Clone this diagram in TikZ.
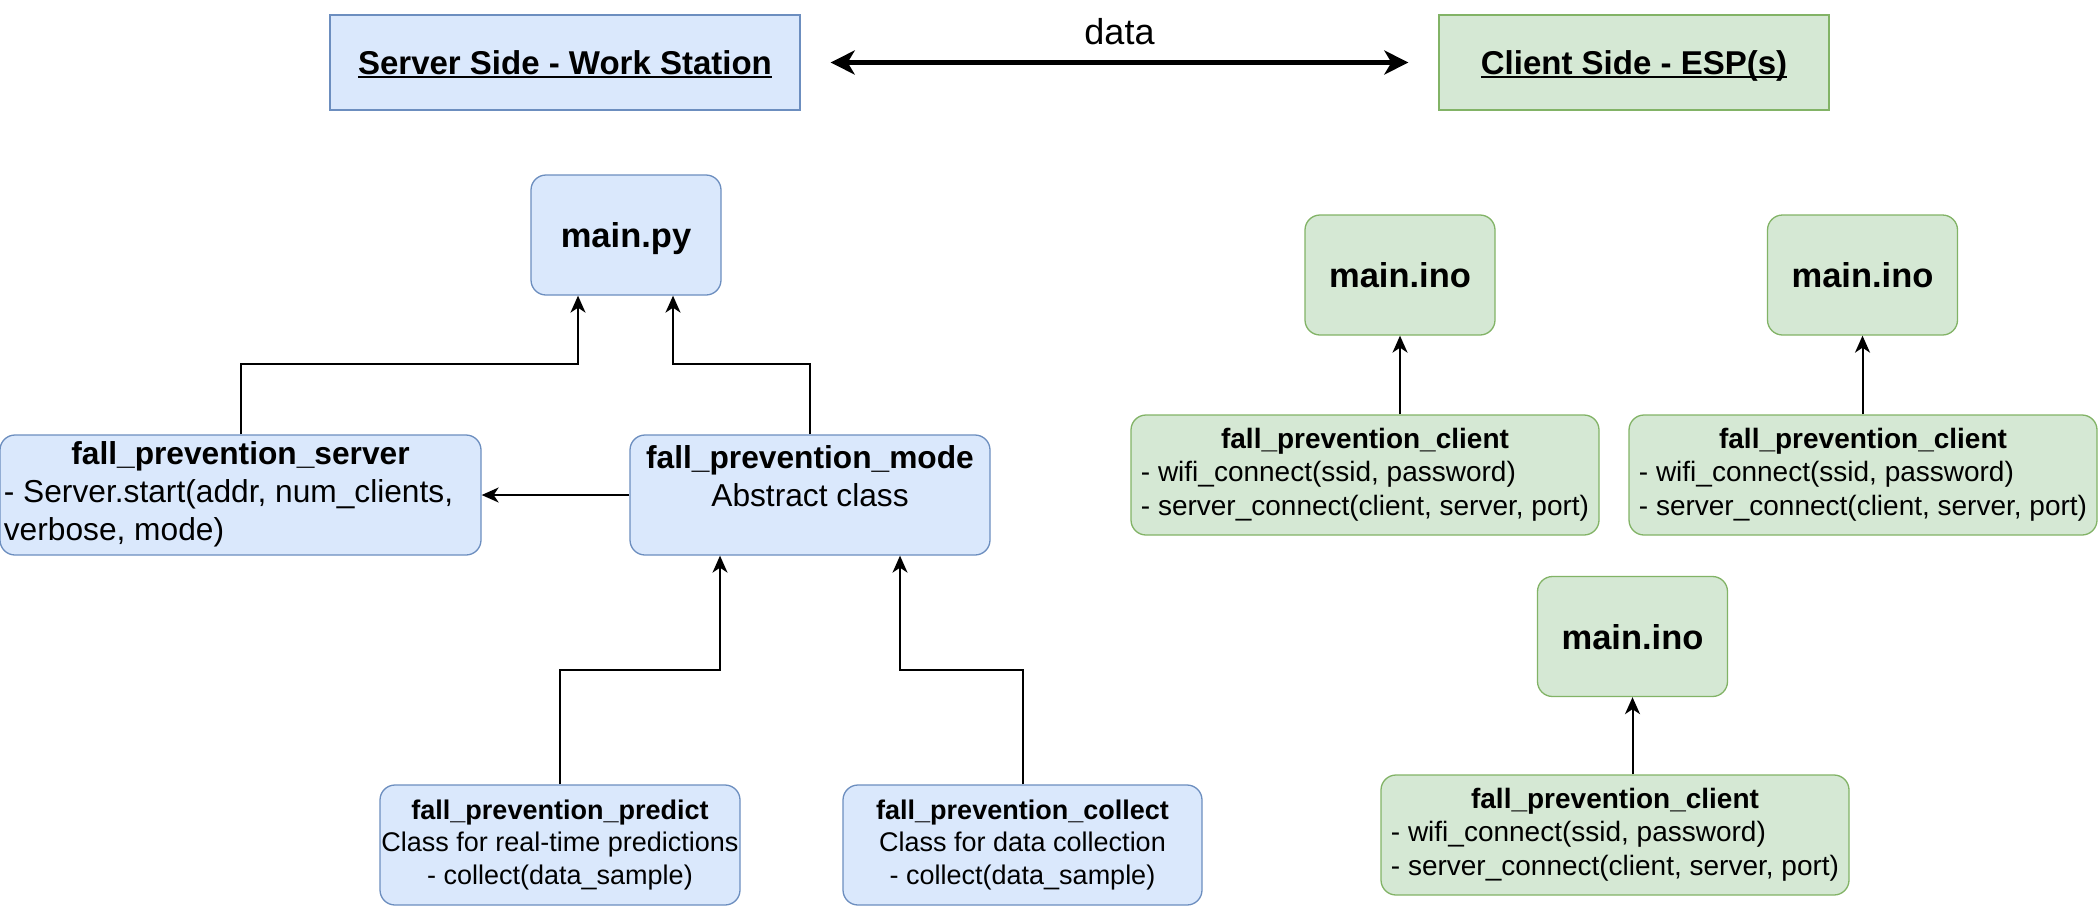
\documentclass[tikz,border=0pt]{standalone}
\usepackage{fontspec}
\setmainfont{Liberation Sans}
\usetikzlibrary{arrows.meta}
\definecolor{bluefill}{HTML}{DAE8FC}
\definecolor{blueline}{HTML}{6C8EBF}
\definecolor{greenfill}{HTML}{D5E8D4}
\definecolor{greenline}{HTML}{82B366}
\newcommand{\hdul}[1]{\setbox0=\hbox{#1}\rlap{\rule[-4pt]{\wd0}{2.5pt}}\box0}

\begin{document}
\begin{tikzpicture}[
	x=1pt, y=-1pt,
	font=\fontsize{28}{33.6}\selectfont,
	hd/.style={draw, line width=1.3pt, minimum height=95pt, inner sep=0pt, text depth=0pt, font=\fontsize{33}{40}\selectfont\bfseries},
	sh/.style={hd, fill=bluefill, draw=blueline},
	ch/.style={hd, fill=greenfill, draw=greenline},
	bx/.style={draw, rounded corners=15pt, line width=1.3pt, minimum height=120pt, inner sep=0pt, align=center},
	bs/.style={bx, fill=bluefill, draw=blueline},
	bc/.style={bx, fill=greenfill, draw=greenline},
	ftbig/.style={text depth=0pt, font=\fontsize{34.5}{41}\selectfont\bfseries},
	ftmid/.style={font=\fontsize{31.7}{38}\selectfont},
	ftsml/.style={font=\fontsize{27}{32.4}\selectfont},
	conn/.style={line width=2pt, -{Stealth[length=17pt, width=15pt, inset=5pt]}},
	dtip/.style={line width=4.5pt, {Stealth[length=24pt, width=24pt, inset=7pt]}-{Stealth[length=24pt, width=24pt, inset=7pt]}},
	]
\useasboundingbox (0,0) rectangle (2098,906);

% headers
\node [sh, minimum width=470pt] (srvside) at (565,62.5) {\hdul{Server Side - Work Station}};
\node [ch, minimum width=390pt] (cltside) at (1634,62.5) {\hdul{Client Side - ESP(s)}};
\draw [dtip, shorten <=30pt, shorten >=30pt] (srvside) -- node [font=\fontsize{36}{43}\selectfont, yshift=31pt] (datalbl) {data} (cltside);

% server side
\node [bs, minimum width=190pt, ftbig] (mainpy) at (626,235) {main.py};
\node [bs, minimum width=481pt, ftmid] (srv) at (240.5,495) {\begin{tabular}{@{}l@{\hspace{24pt}}}
	\multicolumn{1}{@{}c@{}}{\textbf{fall\_prevention\_server}}\\
	- Server.start(addr, num\_clients,\\
	verbose, mode)\end{tabular}};
\node [bs, minimum width=360pt, ftmid] (mode) at (810,495) {\textbf{fall\_prevention\_mode}\\Abstract class\\~};
\node [bs, minimum width=360pt, ftsml] (pred) at (560,845) {\textbf{fall\_prevention\_predict}\\Class for real-time predictions\\- collect(data\_sample)};
\node [bs, minimum width=359pt, ftsml] (coll) at (1022.5,845) {\textbf{fall\_prevention\_collect}\\Class for data collection\\- collect(data\_sample)};

\draw [conn] (srv.north) -- ++(0,-70) -| ([xshift=-48pt]mainpy.south);
\draw [conn] (mode.north) -- ++(0,-70) -| ([xshift=47pt]mainpy.south);
\draw [conn] (mode.west) -- (srv.east);
\draw [conn] (pred.north) -- ++(0,-114) -| ([xshift=-90pt]mode.south);
\draw [conn] (coll.north) -- ++(0,-114) -| ([xshift=90pt]mode.south);

% client side
\foreach \n/\xi/\yi/\xc/\yc in {1/1400/275/1365/475, 2/1862.5/275/1863/475, 3/1632.5/636.5/1615/835} {
	\node [bc, minimum width=190pt, ftbig] (ino\n) at (\xi,\yi) {main.ino};
	\node [bc, minimum width=468pt] (clt\n) at (\xc,\yc) {\begin{tabular}{@{}l@{}}
		\multicolumn{1}{@{}c@{}}{\textbf{fall\_prevention\_client}}\\
		- wifi\_connect(ssid, password)\\
		- server\_connect(client, server, port)\end{tabular}};
	\draw [conn] (clt\n.north -| ino\n.south) -- (ino\n.south);
}
\end{tikzpicture}
\end{document}
